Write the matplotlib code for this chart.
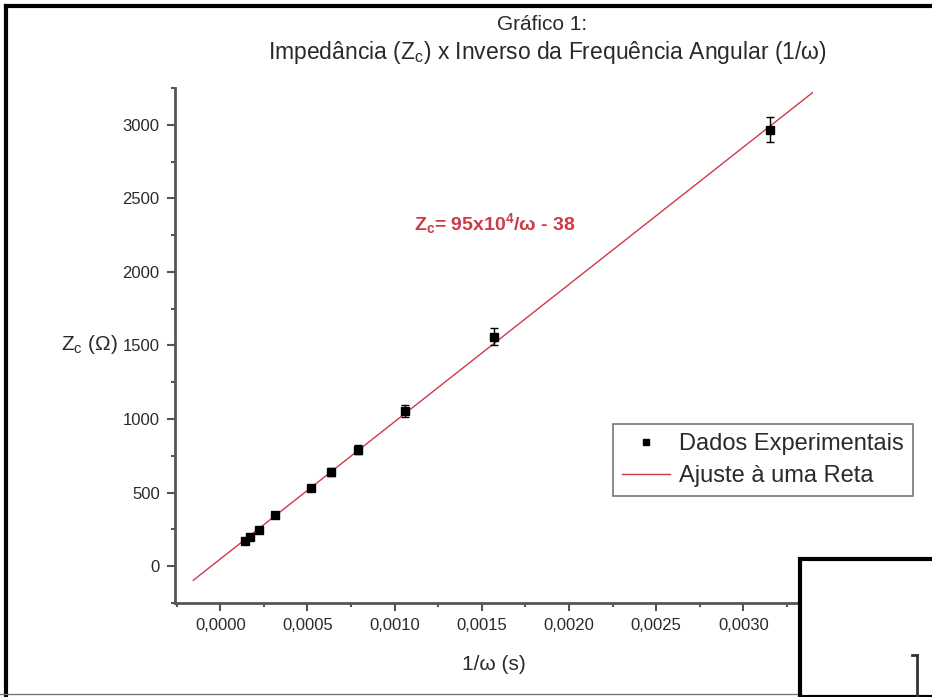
import numpy as np
import matplotlib
matplotlib.use("Agg")
import matplotlib.pyplot as plt
from matplotlib.patches import Rectangle
from matplotlib.lines import Line2D
from matplotlib.ticker import MultipleLocator, FuncFormatter

plt.rcParams['font.family'] = ['Liberation Sans', 'DejaVu Sans']
plt.rcParams['mathtext.default'] = 'regular'

# dados
inv_w = np.array([0.000143, 0.000172, 0.000224, 0.000316, 0.000522,
                  0.000637, 0.000792, 0.001061, 0.001572, 0.003155])  # 1/w (s)
Zc = np.array([170, 198, 245, 348, 532, 641, 791, 1057, 1561, 2966])   # ohm
Zc_err = np.array([10, 10, 12, 14, 20, 25, 30, 40, 55, 85])

# ajuste linear
a, b = np.polyfit(inv_w, Zc, 1)
x_fit = np.array([-0.000155, 0.0034])
y_fit = a*x_fit + b

W, H = 932, 697
fig = plt.figure(figsize=(W/100, H/100), dpi=100)
ax = fig.add_axes([175/W, 1-603/H, (813-175)/W, (603-88)/H])

txt = '#2a2a2a'
red = '#cf3a48'

ax.plot(x_fit, y_fit, color=red, lw=1, label='Ajuste à uma Reta', zorder=2)
ax.errorbar(inv_w, Zc, yerr=Zc_err, fmt='s', color='black', ms=6,
            ecolor='black', elinewidth=1, capsize=3, capthick=1, zorder=3)

ax.set_xlim(-0.00026, 0.0034)
ax.set_ylim(-250, 3250)
for s in ['top', 'right']:
    ax.spines[s].set_visible(False)
for s in ['left', 'bottom']:
    ax.spines[s].set_color('#555555')
    ax.spines[s].set_linewidth(2)

ax.xaxis.set_major_locator(MultipleLocator(0.0005))
ax.xaxis.set_minor_locator(MultipleLocator(0.00025))
ax.yaxis.set_major_locator(MultipleLocator(500))
ax.yaxis.set_minor_locator(MultipleLocator(250))
ax.xaxis.set_major_formatter(FuncFormatter(lambda v, p: ('%.4f' % v).replace('.', ',').replace('-0,0000', '0,0000')))
ax.tick_params(which='major', direction='out', length=6, width=1.5, color='#555555',
               labelsize=12, labelcolor=txt, pad=5)
ax.tick_params(which='minor', direction='out', length=3, width=1.5, color='#555555')

fig.text(118/W, 1-345/H, r'Z$_c$ ($\Omega$)', ha='right', va='center', fontsize=15, color=txt)
fig.text(494/W, 1-665/H, '1/ω (s)', ha='center', va='center', fontsize=15, color=txt)

fig.text(542/W, 1-25/H, 'Gráfico 1:', ha='center', va='center', fontsize=15, color=txt)
fig.text(547/W, 1-53/H, r'Impedância (Z$_c$) x Inverso da Frequência Angular (1/ω)',
         ha='center', va='center', fontsize=16.5, color=txt)

ax.text(0.001577, 2330, r'Z$_c$= 95x10$^4$/ω - 38', ha='center', va='center',
        fontsize=14, color=red, fontweight='bold')

handles = [Line2D([], [], marker='s', ls='none', color='black', ms=5),
           Line2D([], [], color=red, lw=1)]
leg = fig.legend(handles, ['Dados Experimentais', 'Ajuste à uma Reta'],
                 loc='upper left', bbox_to_anchor=(613/W, 1-424/H), fontsize=17,
                 frameon=True, fancybox=False, borderpad=0.4, handlelength=2.0,
                 handletextpad=0.4, labelspacing=0.4, borderaxespad=0)
leg.get_frame().set_edgecolor('#555555')
leg.get_frame().set_linewidth(1.2)
for t in leg.get_texts():
    t.set_color(txt)

# moldura externa
fig.add_artist(Line2D([6/W, 6/W], [0, 1-6/H], color='black', lw=3))
fig.add_artist(Line2D([6/W, 1], [1-6/H, 1-6/H], color='black', lw=3))
fig.add_artist(Line2D([0, 800/W], [1-694/H, 1-694/H], color='#777777', lw=1))

# caixa sobreposta no canto
fig.add_artist(Rectangle((800/W, 0), (W-800+5)/W, (H-559)/H, transform=fig.transFigure,
                         facecolor='white', edgecolor='black', lw=3, zorder=10))
fig.add_artist(Line2D([917/W, 917/W], [0, 1-655/H], color='#333333', lw=2, zorder=11))
fig.add_artist(Line2D([912/W, 917/W], [1-655/H, 1-655/H], color='#333333', lw=2, zorder=11))

fig.savefig('out.png', dpi=100)
